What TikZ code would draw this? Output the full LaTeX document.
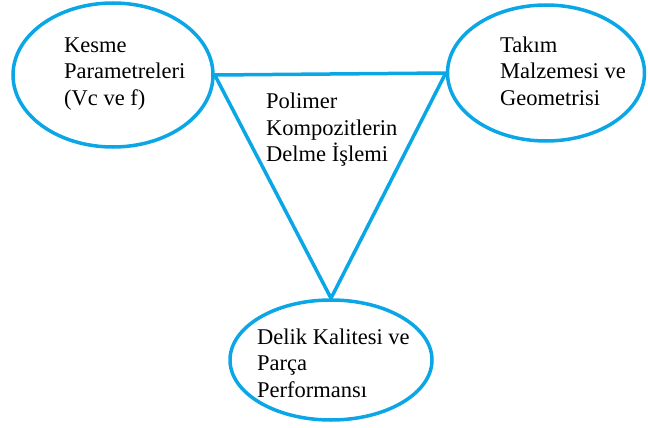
\documentclass[tikz,border=0pt]{standalone}
\usepackage{fontspec}
\setmainfont{Liberation Serif}
\usepackage{tikz}
\usetikzlibrary{
  shapes.geometric,
  positioning
}
\definecolor{linkblue}{RGB}{10,166,230}

\begin{document}
\begin{tikzpicture}[x=1pt,y=-1pt,
  factor/.style={draw=linkblue, line width=3.5pt, ellipse, inner sep=0pt},
  label/.style={anchor=west, align=left, font=\fontsize{22.5}{26.5}\selectfont, inner sep=0pt}]
  \useasboundingbox (0,0) rectangle (648,428);

  % Ellipses
  \node[factor, minimum width=200pt, minimum height=144pt] (kesme) at (113,75) {};
  \node[factor, minimum width=197pt, minimum height=136pt] (takim) at (546,73) {};
  \node[factor, minimum width=202pt, minimum height=120pt] (delik) at (331,360) {};

  % Triangle
  \draw[linkblue, line width=3.5pt, line join=round]
    (kesme.east) -- (takim.west) -- (delik.north) -- cycle;

  % Texts
  \node[label] (kesmetxt) at (64,74) {Kesme\\Parametreleri\\(Vc ve f)};
  \node[label] (takimtxt) at (500,71) {Takım\\Malzemesi ve\\Geometrisi};
  \node[label] (delmetxt) at (266,130) {Polimer\\Kompozitlerin\\Delme İşlemi};
  \node[label] (deliktxt) at (257,363) {Delik Kalitesi ve\\Parça\\Performansı};
\end{tikzpicture}
\end{document}
